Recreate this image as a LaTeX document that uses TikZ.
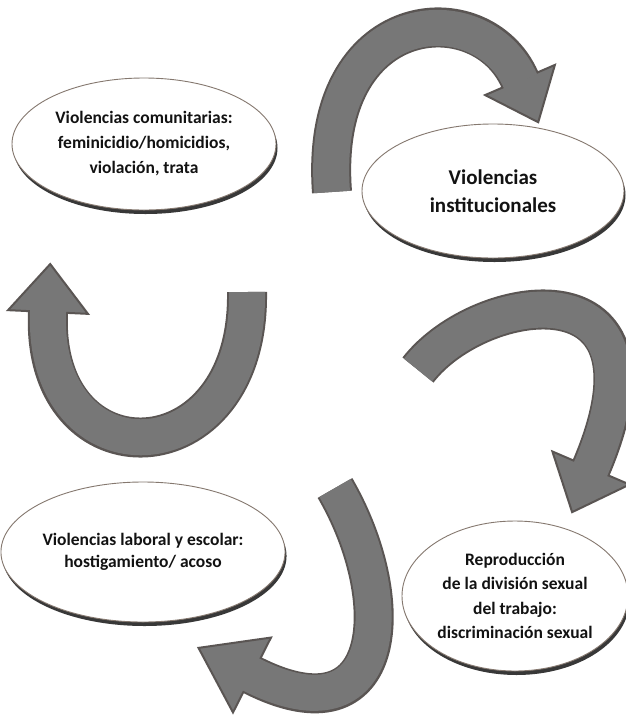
\documentclass[tikz,border=0pt]{standalone}
\usepackage{fontspec}
\setmainfont{Carlito}
\usetikzlibrary{shapes.geometric, arrows.meta, calc, shadows, positioning}
\definecolor{arrowFill}{HTML}{777777}
\definecolor{arrowEdge}{HTML}{5A5553}
\definecolor{ovalEdge}{HTML}{85786F}
\definecolor{ovalShadow}{HTML}{232323}
\definecolor{labelInk}{HTML}{121212}

\tikzset{
  oval/.style={ellipse, draw=ovalEdge, line width=0.9pt, fill=white, align=center, inner sep=0pt,
    text=labelInk, font=\bfseries\fontsize{17.5}{25}\selectfont,
    drop shadow={shadow xshift=1.5pt, shadow yshift=-4pt, fill=ovalShadow, opacity=0.9}},
  bodyedge/.style={draw=arrowEdge, line width=40pt},
  bodyfill/.style={draw=arrowFill, line width=36pt},
  headfill/.style={fill=arrowFill, draw=arrowEdge, line width=2pt, line join=miter},
}

% bent block arrow: start, control 1, control 2, end, head length, head half width
\newcommand{\bentarrow}[6]{%
  \draw[bodyedge] (#1) .. controls (#2) and (#3) .. (#4);
  \filldraw[headfill] ($(#4)!#6!90:(#3)$) -- ($(#4)!-#5!(#3)$) -- ($(#4)!#6!-90:(#3)$) -- cycle;
  \draw[bodyfill, shorten >=-2pt] (#1) .. controls (#2) and (#3) .. (#4);
}

\begin{document}
\begin{tikzpicture}[x=1pt, y=-1pt]
  \fill[white] (0,0) rectangle (626,721);
  \useasboundingbox (0,0) rectangle (626,721);

  % Arrows (image pixel coordinates, y grows downwards)
  \coordinate (topS) at (332,192);  \coordinate (topA) at (318,5);
  \coordinate (topB) at (482,-8);   \coordinate (topE) at (520,80);
  \bentarrow{topS}{topA}{topB}{topE}{46pt}{38pt}

  \coordinate (rightS) at (418,370); \coordinate (rightA) at (480,290);
  \coordinate (rightB) at (680,260); \coordinate (rightE) at (591,468);
  \bentarrow{rightS}{rightA}{rightB}{rightE}{48pt}{42pt}

  \coordinate (lowS) at (335,488);  \coordinate (lowA) at (400,600);
  \coordinate (lowB) at (390,745);  \coordinate (lowE) at (252,675);
  \bentarrow{lowS}{lowA}{lowB}{lowE}{60pt}{42pt}

  \coordinate (leftS) at (247,292); \coordinate (leftA) at (250,480);
  \coordinate (leftB) at (40,485);  \coordinate (leftE) at (48,312);
  \bentarrow{leftS}{leftA}{leftB}{leftE}{48pt}{40pt}

  % Ovals
  \node[oval, minimum width=264pt, minimum height=132pt] (comunitarias) at (144,144)
    {Violencias comunitarias:\\ feminicidio/homicidios,\\ violación, trata};
  \node[oval, minimum width=262pt, minimum height=134pt, font=\bfseries\fontsize{21}{28}\selectfont] (institucionales) at (493,191)
    {Violencias\\ institucionales};
  \node[oval, minimum width=264pt, minimum height=140pt, font=\bfseries\fontsize{17.5}{22}\selectfont] (laboral) at (143,552)
    {Violencias laboral y escolar:\\ hostigamiento/ acoso};
  \node[oval, minimum width=226pt, minimum height=150pt, font=\bfseries\fontsize{17.5}{24.5}\selectfont] (division) at (515,596)
    {Reproducción\\ de la división sexual\\ del trabajo:\\ discriminación sexual};
\end{tikzpicture}
\end{document}
